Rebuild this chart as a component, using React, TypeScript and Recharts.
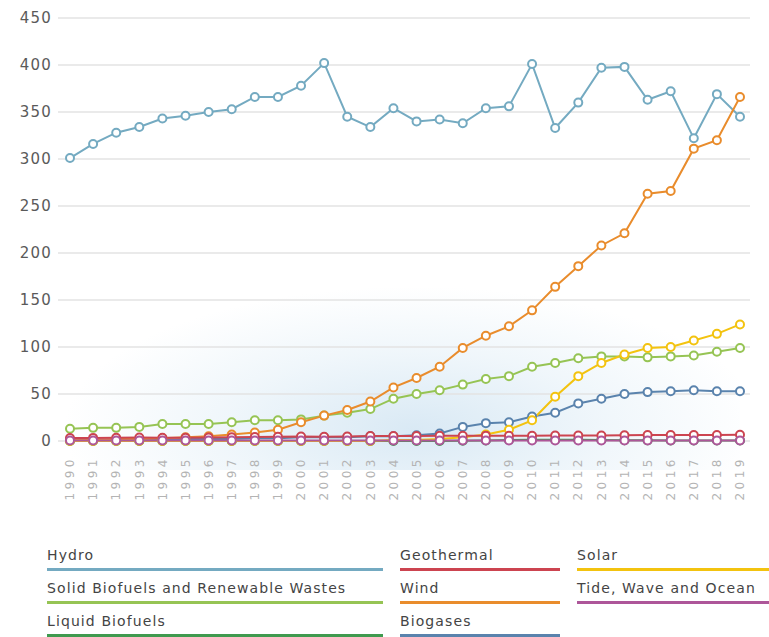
import { LineChart, Line, XAxis, YAxis, CartesianGrid } from 'recharts';

// Renewable electricity generation by source, 1990-2019
const years = [
  '1990', '1991', '1992', '1993', '1994', '1995', '1996', '1997', '1998', '1999',
  '2000', '2001', '2002', '2003', '2004', '2005', '2006', '2007', '2008', '2009',
  '2010', '2011', '2012', '2013', '2014', '2015', '2016', '2017', '2018', '2019',
];

const hydro = [301, 316, 328, 334, 343, 346, 350, 353, 366, 366, 378, 402, 345, 334, 354, 340, 342, 338, 354, 356, 401, 333, 360, 397, 398, 363, 372, 322, 369, 345];
const wind = [1, 1, 2, 2, 3, 4, 5, 7, 9, 12, 20, 27, 33, 42, 57, 67, 79, 99, 112, 122, 139, 164, 186, 208, 221, 263, 266, 311, 320, 366];
const solar = [0, 0, 0, 0, 0, 0, 0, 0, 0, 0, 0, 0, 0, 0, 1, 1, 2, 4, 7, 12, 22, 47, 69, 83, 92, 99, 100, 107, 114, 124];
const solidBiofuels = [13, 14, 14, 15, 18, 18, 18, 20, 22, 22, 23, 27, 30, 34, 45, 50, 54, 60, 66, 69, 79, 83, 88, 90, 90, 89, 90, 91, 95, 99];
const biogases = [1, 1, 1, 1, 1, 2, 2, 2, 3, 3, 4, 4, 4, 5, 5, 6, 8, 15, 19, 20, 26, 30, 40, 45, 50, 52, 53, 54, 53, 53];
const geothermal = [3.2, 3.3, 3.5, 3.7, 3.5, 3.4, 3.8, 3.9, 4.2, 4.4, 4.8, 4.6, 4.7, 5.3, 5.4, 5.4, 5.5, 5.6, 5.7, 5.6, 5.6, 5.9, 5.8, 5.9, 6.0, 6.3, 6.4, 6.3, 6.4, 6.6];
const tide = [0.6, 0.5, 0.6, 0.6, 0.6, 0.6, 0.6, 0.5, 0.6, 0.5, 0.5, 0.5, 0.5, 0.5, 0.5, 0.5, 0.5, 0.5, 0.5, 0.5, 0.5, 0.5, 0.5, 0.5, 0.5, 0.5, 0.5, 0.5, 0.5, 0.5];
const liquidBiofuels = [0, 0, 0, 0, 0, 0, 0, 0, 0, 0, 0, 0, 0, 0, 0, 0, 0.1, 0.3, 0.6, 1.0, 1.4, 1.3, 1.3, 1.0, 0.8, 0.7, 0.6, 0.6, 0.5, 0.5];

const yTicks = [0, 50, 100, 150, 200, 250, 300, 350, 400, 450];

// legend order is row-major, three columns
const series = [
  { key: 'hydro', name: 'Hydro', color: '#74aac1' },
  { key: 'geothermal', name: 'Geothermal', color: '#cc4450' },
  { key: 'solar', name: 'Solar', color: '#f3c30f' },
  { key: 'solidBiofuels', name: 'Solid Biofuels and Renewable Wastes', color: '#96c454' },
  { key: 'wind', name: 'Wind', color: '#e98c2c' },
  { key: 'tide', name: 'Tide, Wave and Ocean', color: '#ad5699' },
  { key: 'liquidBiofuels', name: 'Liquid Biofuels', color: '#3f9a4f' },
  { key: 'biogases', name: 'Biogases', color: '#5a83ad' },
];

// draw order (later = on top)
const drawOrder = ['hydro', 'liquidBiofuels', 'biogases', 'solidBiofuels', 'wind', 'solar', 'geothermal', 'tide'];

const data = years.map((year, i) => ({
  year,
  hydro: hydro[i],
  wind: wind[i],
  solar: solar[i],
  solidBiofuels: solidBiofuels[i],
  biogases: biogases[i],
  geothermal: geothermal[i],
  tide: tide[i],
  liquidBiofuels: liquidBiofuels[i],
}));

const FONT = '"DejaVu Sans", sans-serif';

function YearTick(props: any) {
  const { x, y, payload } = props;
  return (
    <text
      transform={`translate(${x}, ${y + 7}) rotate(-90)`}
      textAnchor="end"
      dy="0.35em"
      fontSize={12}
      letterSpacing={3.5}
      fontFamily={FONT}
      fill="#b4b4b4"
    >
      {payload.value}
    </text>
  );
}

export default function App() {
  return (
    <div style={{ position: 'absolute', left: 0, top: 0, width: 769, height: 637, background: '#fff', fontFamily: FONT }}>
      {/* soft blue haze behind the low series */}
      <div
        style={{
          position: 'absolute',
          left: 60,
          top: 285,
          width: 680,
          height: 185,
          background:
            'radial-gradient(ellipse at 52% 78%, rgba(165,203,230,0.42) 0%, rgba(200,224,240,0.28) 38%, rgba(255,255,255,0) 70%)',
        }}
      />
      <div style={{ position: 'absolute', left: 0, top: 0 }}>
        <LineChart width={769} height={510} data={data} margin={{ top: 18, right: 19, bottom: 4, left: 0 }}>
          <CartesianGrid vertical={false} stroke="#e3e3e3" strokeWidth={1.5} />
          <XAxis
            dataKey="year"
            interval={0}
            height={65}
            axisLine={false}
            tickLine={false}
            padding={{ left: 12, right: 10 }}
            tick={<YearTick />}
          />
          <YAxis
            domain={[0, 450]}
            ticks={yTicks}
            width={58}
            axisLine={false}
            tickLine={false}
            tickSize={4}
            tickMargin={2}
            tick={{ fontSize: 15, fill: '#5a5a5a', fontFamily: FONT, letterSpacing: 1.2 }}
          />
          {drawOrder.map((k) => {
            const s = series.find((d) => d.key === k)!;
            return (
              <Line
                key={k}
                type="linear"
                dataKey={k}
                name={s.name}
                stroke={s.color}
                strokeWidth={2}
                dot={{ r: 4, fill: '#fff', stroke: s.color, strokeWidth: 2 }}
                isAnimationActive={false}
              />
            );
          })}
        </LineChart>
      </div>
      <div
        style={{
          position: 'absolute',
          left: 47,
          top: 546,
          display: 'grid',
          gridTemplateColumns: '336px 160px 200px',
          columnGap: 17,
          rowGap: 8,
        }}
      >
        {series.map((s) => (
          <div key={s.key}>
            <div style={{ fontSize: 14, lineHeight: '18px', color: '#444', letterSpacing: 1.1, whiteSpace: 'nowrap' }}>
              {s.name}
            </div>
            <div style={{ marginTop: 4, height: 3, background: s.color }} />
          </div>
        ))}
      </div>
    </div>
  );
}
